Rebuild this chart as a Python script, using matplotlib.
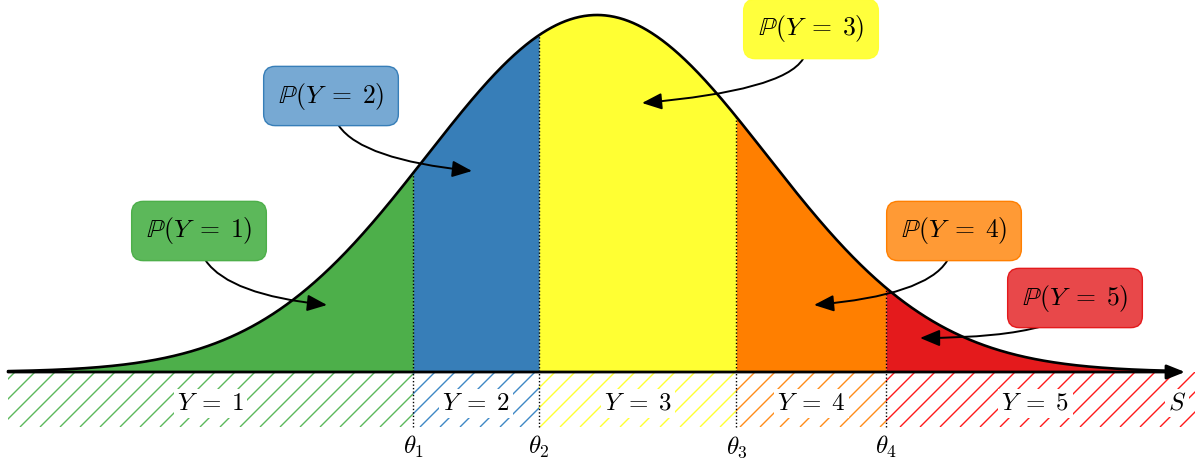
import numpy as np
import matplotlib
matplotlib.use('Agg')
import matplotlib.pyplot as plt
from matplotlib.collections import LineCollection
from matplotlib.patches import Rectangle

plt.rcParams['mathtext.fontset'] = 'cm'
plt.rcParams['font.family'] = ['DejaVu Serif']

# ---- data ----
categories = ['1', '2', '3', '4', '5']
thresholds = [-1.08, -0.34, 0.82, 1.70]
threshold_labels = [r'$\theta_1$', r'$\theta_2$', r'$\theta_3$', r'$\theta_4$']
region_colors = ['#4daf4a', '#377eb8', '#ffff33', '#ff7f00', '#e41a1c']
box_colors = ['#5cb85a', '#77a9d3', '#ffff3c', '#ff9a35', '#e8484a']
hatch_colors = ['#5cb85c', '#3f88c5', '#ffff33', '#ff8c1a', '#ff1a1a']
axis_label = r'$S$'

# ---- layout helpers (pixel -> data) ----
W, H = 1195, 462
X0PX, Y0PX = 597, 372
SX, SY = 170.0, 357.0
def dx(px): return (px - X0PX) / SX
def dy(py): return (Y0PX - py) / SY

fig = plt.figure(figsize=(11.95, 4.62), dpi=100)
ax = fig.add_axes([0, 0, 1, 1])
ax.set_xlim(dx(0), dx(W))
ax.set_ylim(dy(H), dy(0))
ax.axis('off')

def f(x):
    return np.exp(-x ** 2 / 2)

x_start, x_end, x_axis_end = dx(8), dx(1172), dx(1185)
xs = np.linspace(x_start, x_end, 1500)
edges = [x_start] + thresholds + [x_end]

# filled regions
for i in range(5):
    m = (xs >= edges[i]) & (xs <= edges[i + 1])
    xx = np.concatenate([[edges[i]], xs[m], [edges[i + 1]]])
    ax.fill_between(xx, 0, f(xx), color=region_colors[i], lw=0, zorder=1)

# hatched band below axis
ybot = dy(427)
band_edges = [x_start] + thresholds + [dx(W)]
for i in range(5):
    clip = Rectangle((band_edges[i], ybot), band_edges[i + 1] - band_edges[i], -ybot,
                     transform=ax.transData, fc='none', ec='none')
    ax.add_patch(clip)
    segs = []
    for p in np.arange(-60, 1300, 20):
        segs.append([(dx(p), dy(427)), (dx(p + 55), dy(372))])
    lc = LineCollection(segs, colors=hatch_colors[i], linewidths=1.0, zorder=1)
    ax.add_collection(lc)
    lc.set_clip_path(clip)

# threshold dotted lines and labels
for t, lab in zip(thresholds, threshold_labels):
    ax.plot([t, t], [ybot, f(t)], color='k', ls=(0, (1, 1.5)), lw=1.0, zorder=3)
    ax.text(t, dy(447), lab, ha='center', va='center', fontsize=18, zorder=5)

# category labels in band
label_edges = [x_start] + thresholds + [x_axis_end]
for i, c in enumerate(categories):
    xm = (label_edges[i] + label_edges[i + 1]) / 2
    ax.text(xm, dy(403), r'$Y\;=\;%s$' % c, ha='center', va='center', fontsize=18, zorder=5,
            bbox=dict(boxstyle='square,pad=0.12', fc='white', ec='none'))
ax.text(dx(1177), dy(403), axis_label, ha='center', va='center', fontsize=18, zorder=5,
        bbox=dict(boxstyle='square,pad=0.1', fc='white', ec='none'))

# curve
ax.plot(xs, f(xs), color='k', lw=1.9, zorder=4, solid_capstyle='round')

# axis arrow
ax.annotate('', xy=(x_axis_end, 0), xytext=(x_start, 0),
            arrowprops=dict(arrowstyle='-|>,head_length=0.55,head_width=0.22',
                            color='k', lw=2.0, shrinkA=0, shrinkB=0, mutation_scale=20),
            zorder=6)

# probability boxes and arrows
box_centers = [(199, 231), (331, 96), (811, 29), (954, 231), (1075, 298)]
arrow_starts = [(206, 261), (339, 126), (803, 59), (947, 261), (1043, 326)]
arrow_tips = [(327, 305), (472, 171), (642, 103), (814, 305), (920, 338)]
arrow_styles = ['angle3,angleA=-55,angleB=-6',
                'angle3,angleA=-55,angleB=-6',
                'angle3,angleA=-122,angleB=185',
                'angle3,angleA=-122,angleB=185',
                'angle3,angleA=196,angleB=180']
for i, c in enumerate(categories):
    bx, by = box_centers[i]
    ax.text(dx(bx), dy(by), r'$\mathbb{P}(Y\;=\;%s)$' % c, ha='center', va='center',
            fontsize=18.5, zorder=7,
            bbox=dict(boxstyle='round,pad=0.55,rounding_size=0.45', fc=box_colors[i],
                      ec=region_colors[i], lw=1.0))
    sx, sy = arrow_starts[i]
    tx, ty = arrow_tips[i]
    ax.annotate('', xy=(dx(tx), dy(ty)), xytext=(dx(sx), dy(sy)),
                arrowprops=dict(arrowstyle='-|>,head_length=0.6,head_width=0.25',
                                connectionstyle=arrow_styles[i], color='k', lw=1.4,
                                shrinkA=0, shrinkB=0, mutation_scale=20),
                zorder=6)

fig.savefig('out.png', dpi=100)
